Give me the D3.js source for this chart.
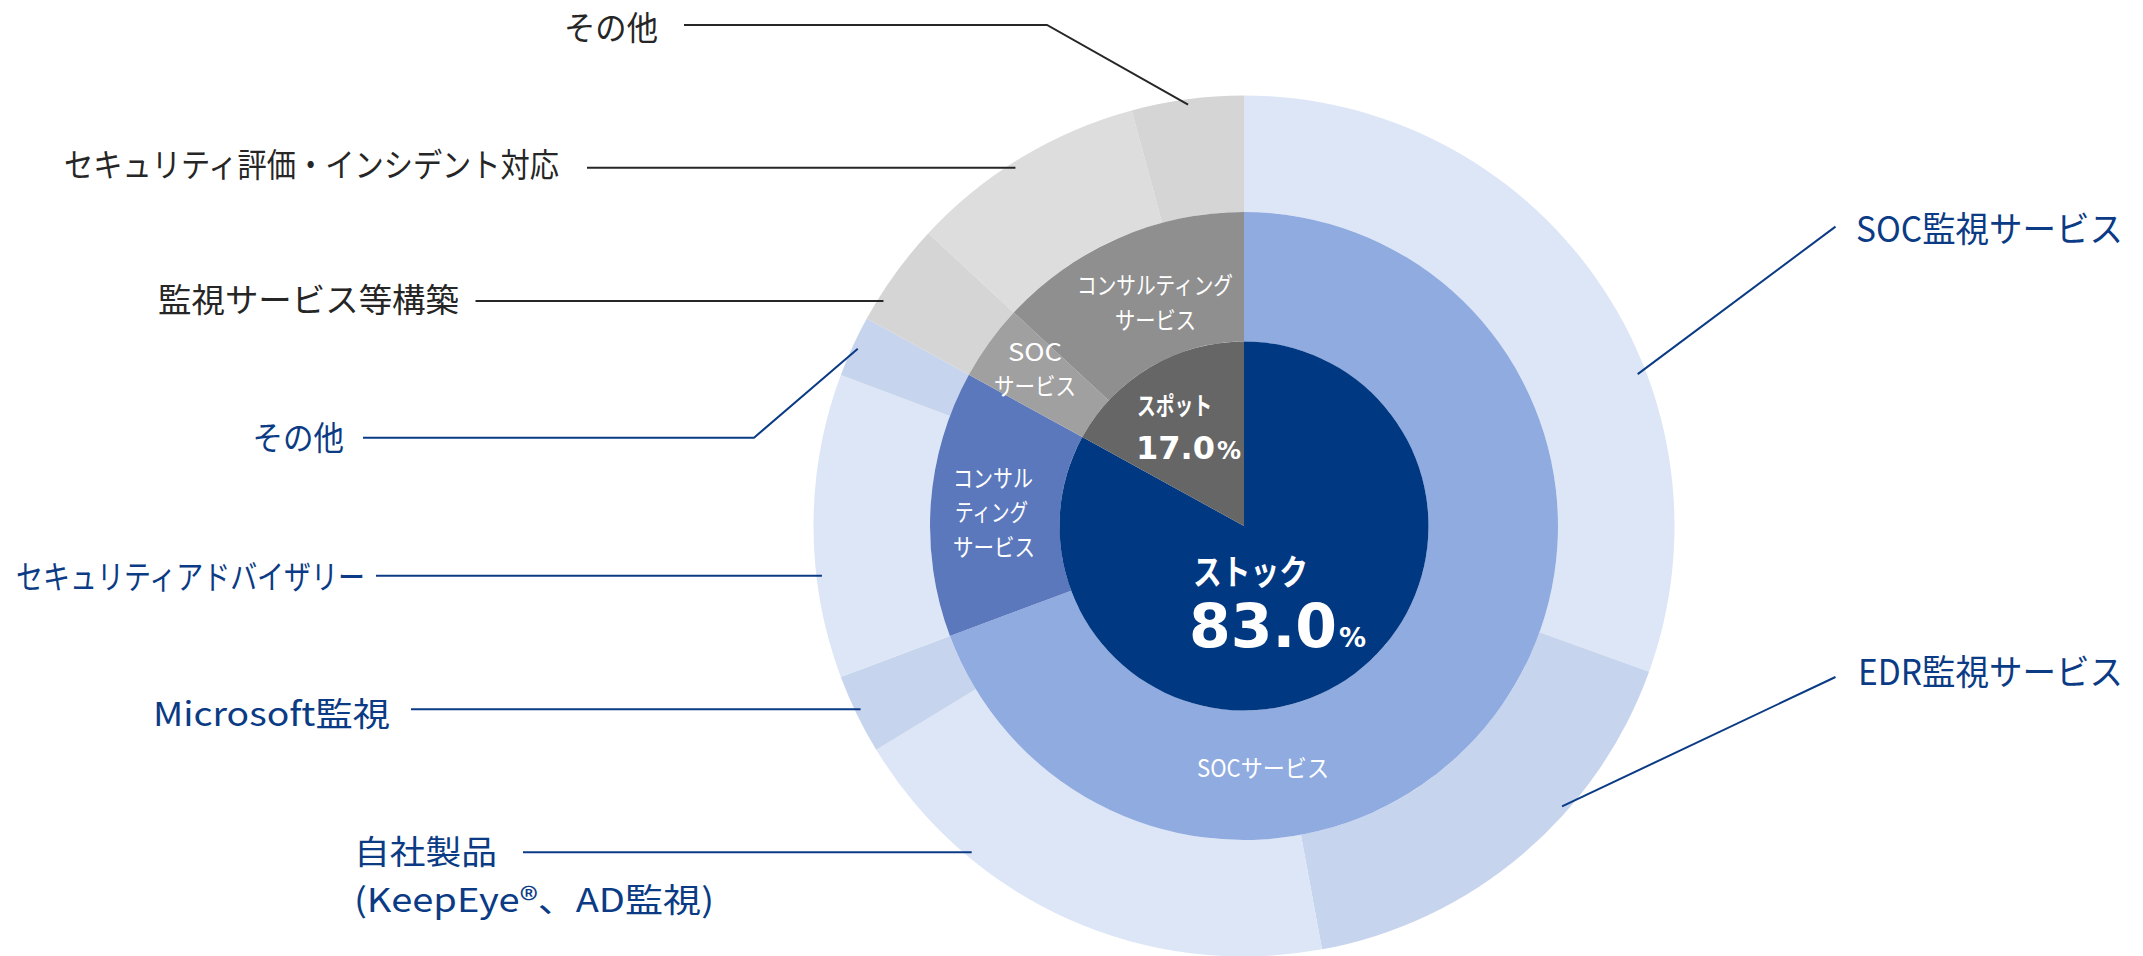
<!DOCTYPE html>
<html><head><meta charset="utf-8">
<script src="https://cdn.jsdelivr.net/npm/d3@7"></script>
<style>html,body{margin:0;padding:0;background:#fff;overflow:hidden;} svg{display:block;}</style>
</head><body><svg id="chart" width="2143" height="956"></svg>
<script>
// ---------------- data ----------------
const innerCategories = ["ストック", "スポット"];
const innerValues = [83.0, 17.0];

const middleCategories = ["SOCサービス", "コンサルティングサービス", "SOCサービス", "コンサルティングサービス"];
const middleParents = ["ストック", "ストック", "スポット", "スポット"];
const middleValues = [69.3, 13.7, 3.9, 13.1];

const outerCategories = ["SOC監視サービス", "EDR監視サービス", "自社製品(KeepEye®、AD監視)", "Microsoft監視",
  "セキュリティアドバイザリー", "その他", "監視サービス等構築", "セキュリティ評価・インシデント対応", "その他"];
const outerParents = ["SOCサービス", "SOCサービス", "SOCサービス", "SOCサービス",
  "コンサルティングサービス", "コンサルティングサービス", "SOCサービス", "コンサルティングサービス", "コンサルティングサービス"];
const outerValues = [30.5, 16.6, 19.2, 3.0, 11.4, 2.3, 3.9, 8.9, 4.2];

// ---------------- styles / layout ----------------
const innerColors = ["#003882", "#666666"];
const middleColors = ["#8FABE0", "#5B78BD", "#A0A0A0", "#8F8F8F"];
const outerColors = ["#DCE6F6", "#C6D4EE", "#DCE6F6", "#C6D4EE", "#DCE6F6", "#C6D4EE", "#D5D5D5", "#DDDDDD", "#D5D5D5"];
const NAVY = "#0B3B85", DARK = "#262626";
const FONT = "'Noto Sans CJK JP', 'Noto Sans', sans-serif";
const NUMFONT = "'DejaVu Sans', Verdana, sans-serif";

const cx = 1244, cy = 526;
const r0 = 184.5, r1 = 314, r2 = 430.5, rLead = 425;

const svg = d3.select("#chart");
const g = svg.append("g").attr("transform", `translate(${cx},${cy})`);

const pie = d3.pie().sort(null).value(d => d).startAngle(0).endAngle(2 * Math.PI);

const innerArcs = pie(innerValues);
const middleArcs = pie(middleValues);
const outerArcs = pie(outerValues);

const arcInner = d3.arc().innerRadius(0).outerRadius(r0);
const arcMiddle = d3.arc().innerRadius(r0).outerRadius(r1);
const arcOuter = d3.arc().innerRadius(r1).outerRadius(r2);

g.selectAll("path.outer").data(outerArcs).join("path").attr("class", "outer")
  .attr("d", arcOuter).attr("fill", (d, i) => outerColors[i]);
g.selectAll("path.middle").data(middleArcs).join("path").attr("class", "middle")
  .attr("d", arcMiddle).attr("fill", (d, i) => middleColors[i]);
g.selectAll("path.inner").data(innerArcs).join("path").attr("class", "inner")
  .attr("d", arcInner).attr("fill", (d, i) => innerColors[i]);

// polar helper (angle clockwise from top, radians)
const polar = (a, r) => [cx + r * Math.sin(a), cy - r * Math.cos(a)];
const deg = d => d * Math.PI / 180;
const midAngle = d => (d.startAngle + d.endAngle) / 2;
const circleX = (y, r, side) => cx + side * Math.sqrt(r * r - (y - cy) * (y - cy));

function addText(t) {
  const size = t.size;
  const el = svg.append("text")
    .attr("x", t.x).attr("y", t.cy + 0.37 * size)
    .attr("font-family", t.family || FONT)
    .attr("font-size", size)
    .attr("font-weight", t.weight || "normal")
    .attr("fill", t.color)
    .text(t.text);
  if (t.len) el.attr("textLength", t.len).attr("lengthAdjust", "spacingAndGlyphs");
  return el;
}

// ---------------- outer labels with leaders ----------------
const outerLabelLayout = [
  { i: 0, color: NAVY, lines: ["SOC監視サービス"], x: 1856, cy: [229], len: [267], size: 35,
    leader: () => [polar(deg(68.9), 422), [1835.5, 226.6]] },
  { i: 1, color: NAVY, lines: ["EDR監視サービス"], x: 1858, cy: [672], len: [265], size: 35,
    leader: () => [polar(deg(131.4), 424), [1835.5, 677]] },
  { i: 2, color: NAVY, lines: ["自社製品", "(KeepEye®、AD監視)"], x: 354, cy: [852, 899.5], len: [143, 360], size: 33,
    leader: () => [[523, 852.3], [circleX(852.3, rLead, -1), 852.3]] },
  { i: 3, color: NAVY, lines: ["Microsoft監視"], x: 153, cy: [714], len: [237], size: 33,
    leader: () => [[411, 709.3], [circleX(709.3, rLead, -1), 709.3]] },
  { i: 4, color: NAVY, lines: ["セキュリティアドバイザリー"], x: 16, cy: [577], len: [349], size: 33,
    leader: () => [[376, 575.7], [circleX(575.7, rLead, -1), 575.7]] },
  { i: 5, color: NAVY, lines: ["その他"], x: 252.5, cy: [438], len: [91.5], size: 33,
    leader: d => [[363, 437.7], [754, 437.7], polar(midAngle(d), rLead)] },
  { i: 6, color: DARK, lines: ["監視サービス等構築"], x: 158, cy: [300], len: [301], size: 33,
    leader: () => [[475.5, 301], [circleX(301, rLead, -1), 301]] },
  { i: 7, color: DARK, lines: ["セキュリティ評価・インシデント対応"], x: 64, cy: [165], len: [495], size: 33,
    leader: () => [[587, 167.7], [circleX(167.7, rLead, -1), 167.7]] },
  { i: 8, color: DARK, lines: ["その他"], x: 564, cy: [27.5], len: [94], size: 33,
    leader: d => [[684, 25], [1047, 25], polar(midAngle(d), rLead)] }
];

const line = d3.line();
outerLabelLayout.forEach(L => {
  const d = outerArcs[L.i];
  svg.append("path").attr("d", line(L.leader(d)))
    .attr("fill", "none").attr("stroke", L.color).attr("stroke-width", 2);
  L.lines.forEach((txt, k) => addText({ text: txt, x: L.x, cy: L.cy[k], len: L.len[k], size: L.size, color: L.color }));
});

// ---------------- middle ring labels ----------------
const middleLabelLayout = [
  { i: 0, lines: ["SOCサービス"], x: [1197], cy: [768], len: [132] },
  { i: 1, lines: ["コンサル", "ティング", "サービス"], x: [953, 955, 953], cy: [478, 512, 547], len: [80, 73, 82] },
  { i: 2, lines: ["SOC", "サービス"], x: [1008, 994], cy: [352, 386], len: [54, 82] },
  { i: 3, lines: ["コンサルティング", "サービス"], x: [1077, 1115], cy: [285, 320], len: [156, 81] }
];
middleLabelLayout.forEach(L => {
  L.lines.forEach((txt, k) => addText({ text: txt, x: L.x[k], cy: L.cy[k], len: L.len[k], size: 24, color: "#FFFFFF" }));
});

// ---------------- inner labels ----------------
const fmt = d3.format(".1f");
function addValue(v, x, baseline, numSize, pctSize) {
  const t = svg.append("text").attr("x", x).attr("y", baseline)
    .attr("font-family", NUMFONT).attr("font-weight", "bold").attr("fill", "#fff");
  t.append("tspan").attr("font-size", numSize).text(fmt(v));
  t.append("tspan").attr("font-size", pctSize).attr("dx", 2).text("%");
}
// スポット
addText({ text: innerCategories[1], x: 1137, cy: 406, len: 75, size: 25, weight: "bold", color: "#fff" });
addValue(innerValues[1], 1136, 459, 32, 24);
// ストック
addText({ text: innerCategories[0], x: 1193, cy: 572.5, len: 115, size: 35, weight: "bold", color: "#fff" });
addValue(innerValues[0], 1189, 647, 60, 27);
</script>
</body></html>
